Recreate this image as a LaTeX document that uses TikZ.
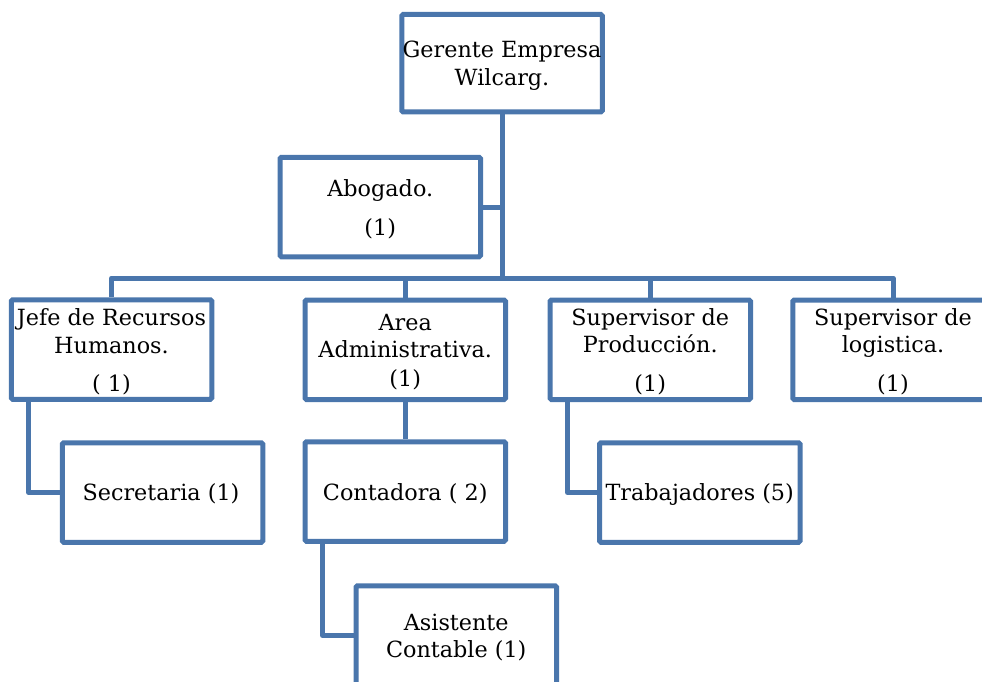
\documentclass[tikz,border=0pt]{standalone}
\usepackage{fontspec}
\setmainfont{DejaVu Serif}
\definecolor{orgblue}{RGB}{74,118,172}
\begin{document}
\begin{tikzpicture}[x=1pt,y=-1pt,
  box/.style={draw=orgblue,line width=5pt,rounded corners=1.5pt,fill=white,
    minimum width=200.5pt,minimum height=99.5pt,inner sep=0pt},
  link/.style={draw=orgblue,line width=5pt,line join=round},
  txt/.style={anchor=base,inner sep=0pt,font=\fontsize{22.3}{26}\selectfont,text=black}]
\useasboundingbox (0,0) rectangle (982,682);
\clip (0,0) rectangle (982,682);
% boxes
\node[box,minimum height=97.5pt] (ger) at (502,63.25) {};
\node[box] (abo) at (380.25,207) {};
\node[box] (jefe) at (111.5,349.5) {};
\node[box] (area) at (405.25,349.75) {};
\node[box] (prod) at (650.25,349.75) {};
\node[box] (log) at (893,349.75) {};
\node[box] (sec) at (162.5,492.5) {};
\node[box] (cont) at (405.25,491.5) {};
\node[box] (trab) at (699.75,492.5) {};
\node[box] (asis) at (456.25,635.5) {};
\coordinate (bus) at (502,278);
% connectors
\draw[link] (ger.south) -- (bus);
\draw[link] (abo.east) -- (abo.east -| bus);
\draw[link] (jefe.north) |- (bus);
\draw[link] (log.north) |- (bus);
\draw[link] (area.north) -- (area.north |- bus);
\draw[link] (prod.north) -- (prod.north |- bus);
\draw[link] ([xshift=20pt]jefe.south west) |- (sec.west);
\draw[link] (area.south) -- (cont.north);
\draw[link] ([xshift=20pt]cont.south west) |- (asis.west);
\draw[link] ([xshift=20pt]prod.south west) |- (trab.west);
% texts
\node[txt] (g1) at (502,58) {Gerente Empresa};
\node[txt] (g2) at (502,86) {Wilcarg.};
\node[txt] (a1) at (380.25,196.5) {Abogado.};
\node[txt] (a2) at (380.25,235) {(1)};
\node[txt] (j1) at (111.5,325) {Jefe de Recursos};
\node[txt] (j2) at (111.5,353) {Humanos.};
\node[txt] (j3) at (111.5,391) {( 1)};
\node[txt] (r1) at (405.25,330) {Area};
\node[txt] (r2) at (405.25,357) {Administrativa.};
\node[txt] (r3) at (405.25,386) {(1)};
\node[txt] (p1) at (650.25,325) {Supervisor de};
\node[txt] (p2) at (650.25,352) {Producción.};
\node[txt] (p3) at (650.25,391) {(1)};
\node[txt] (l1) at (893,325) {Supervisor de};
\node[txt] (l2) at (893,352) {logistica.};
\node[txt] (l3) at (893,391) {(1)};
\node[txt] (s1) at (161,500) {Secretaria (1)};
\node[txt] (c1) at (405.25,500) {Contadora ( 2)};
\node[txt] (w1) at (699.75,500) {Trabajadores (5)};
\node[txt] (x1) at (456.25,630) {Asistente};
\node[txt] (x2) at (456.25,657) {Contable (1)};
\end{tikzpicture}
\end{document}
